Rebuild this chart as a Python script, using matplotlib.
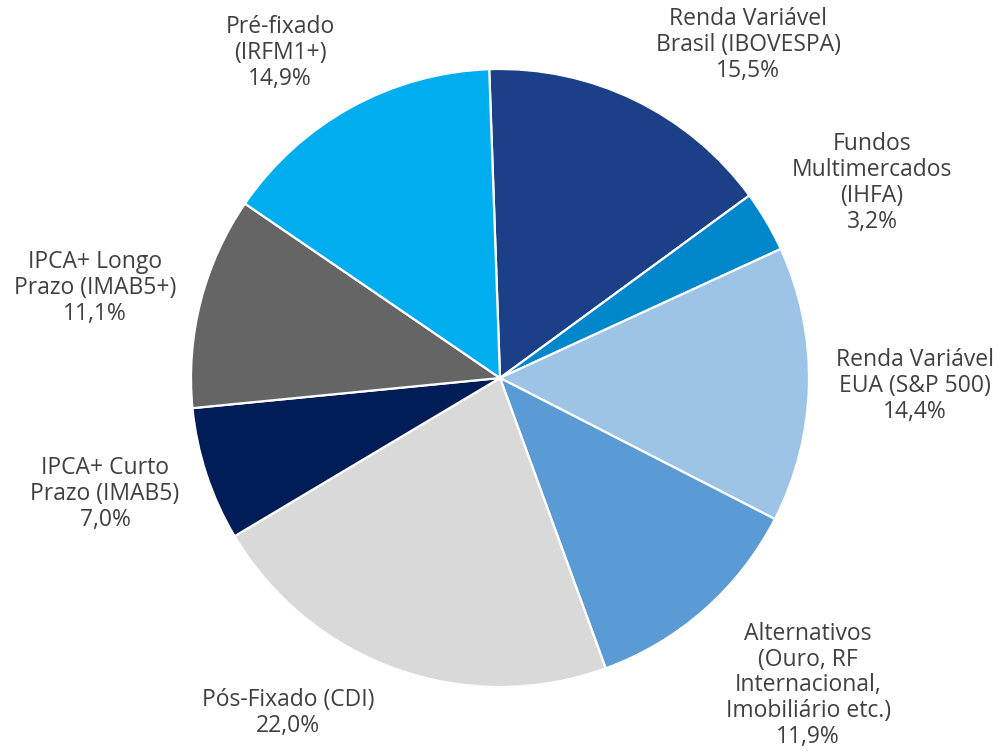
import matplotlib
matplotlib.use("Agg")
import matplotlib.pyplot as plt

categories = [
    "Renda Variável\nBrasil (IBOVESPA)",
    "Fundos\nMultimercados\n(IHFA)",
    "Renda Variável\nEUA (S&P 500)",
    "Alternativos\n(Ouro, RF\nInternacional,\nImobiliário etc.)",
    "Pós-Fixado (CDI)",
    "IPCA+ Curto\nPrazo (IMAB5)",
    "IPCA+ Longo\nPrazo (IMAB5+)",
    "Pré-fixado\n(IRFM1+)",
]
values = [15.5, 3.2, 14.4, 11.9, 22.0, 7.0, 11.1, 14.9]
colors = ["#1C4088", "#0086CA", "#9DC3E6", "#5B9BD5", "#D9D9D9", "#001D57", "#656565", "#00AEEF"]
# label positions in data units (pie radius = 1)
label_pos = [(0.803, 1.078), (1.204, 0.631), (1.343, -0.026), (0.997, -0.995),
             (-0.686, -1.084), (-1.278, -0.375), (-1.311, 0.291), (-0.712, 1.052)]

W, H = 1000, 751
R = 309.0
cx, cy = 500.0, 378.0

fig = plt.figure(figsize=(W / 100, H / 100), dpi=100)
ax = fig.add_axes([0, 0, 1, 1])
wedges, _ = ax.pie(values, colors=colors, startangle=92, counterclock=False,
                   wedgeprops=dict(edgecolor="white", linewidth=1.6))
for lab, v, (x, y) in zip(categories, values, label_pos):
    pct = f"{v:.1f}%".replace(".", ",")
    ax.text(x, y, f"{lab}\n{pct}", ha="center", va="center", fontsize=16.5,
            family=["Open Sans", "DejaVu Sans"], color="#404040", linespacing=1.1)
ax.set_aspect("equal")
ax.set_xlim(-cx / R, (W - cx) / R)
ax.set_ylim(-(H - cy) / R, cy / R)
ax.axis("off")
fig.savefig("out.png", dpi=100, facecolor="white")
